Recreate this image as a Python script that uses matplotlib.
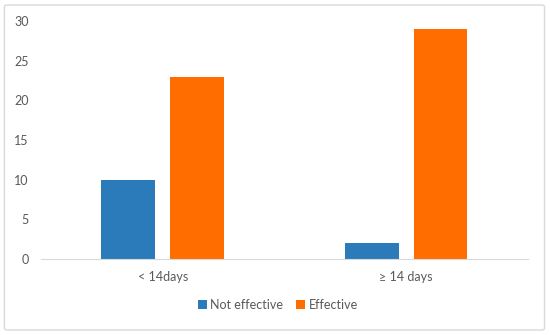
import numpy as np
import matplotlib.pyplot as plt
from matplotlib.patches import FancyBboxPatch

plt.rcParams['font.family'] = ['Lato', 'DejaVu Sans']

categories = ["< 14days", "\u2265 14 days"]
not_effective = [10, 2]
effective = [23, 29]

txt = '#595959'
fig = plt.figure(figsize=(5.5, 3.35), dpi=100)
ax = fig.add_axes([0.0745, 0.227, 0.8855, 0.71])

x = np.arange(len(categories))
w = 0.221
off = 0.141
ax.bar(x - off, not_effective, w, color='#2b7bba', label='Not effective')
ax.bar(x + off, effective, w, color='#ff6d00', label='Effective')

ax.set_xlim(-0.5, 1.5)
ax.set_ylim(0, 30)
ax.set_yticks(range(0, 31, 5))
ax.set_xticks(x)
ax.set_xticklabels(categories)
for s in ['top', 'right', 'left']:
    ax.spines[s].set_visible(False)
ax.spines['bottom'].set_color('#d9d9d9')
ax.tick_params(axis='both', length=0, colors=txt, labelsize=9)
ax.tick_params(axis='y', pad=9)
ax.tick_params(axis='x', pad=9)

fig.legend(loc='center', bbox_to_anchor=(0.505, 0.09), ncol=2, frameon=False,
           fontsize=9, labelcolor=txt, handlelength=0.7, handleheight=0.7,
           handletextpad=0.3, columnspacing=1.0)

border = FancyBboxPatch((0.008, 0.015), 0.982, 0.97, boxstyle='round,pad=0,rounding_size=0.005',
                        transform=fig.transFigure, fill=False, edgecolor='#d9d9d9', linewidth=1)
fig.patches.append(border)

fig.savefig('out.png', dpi=100)
